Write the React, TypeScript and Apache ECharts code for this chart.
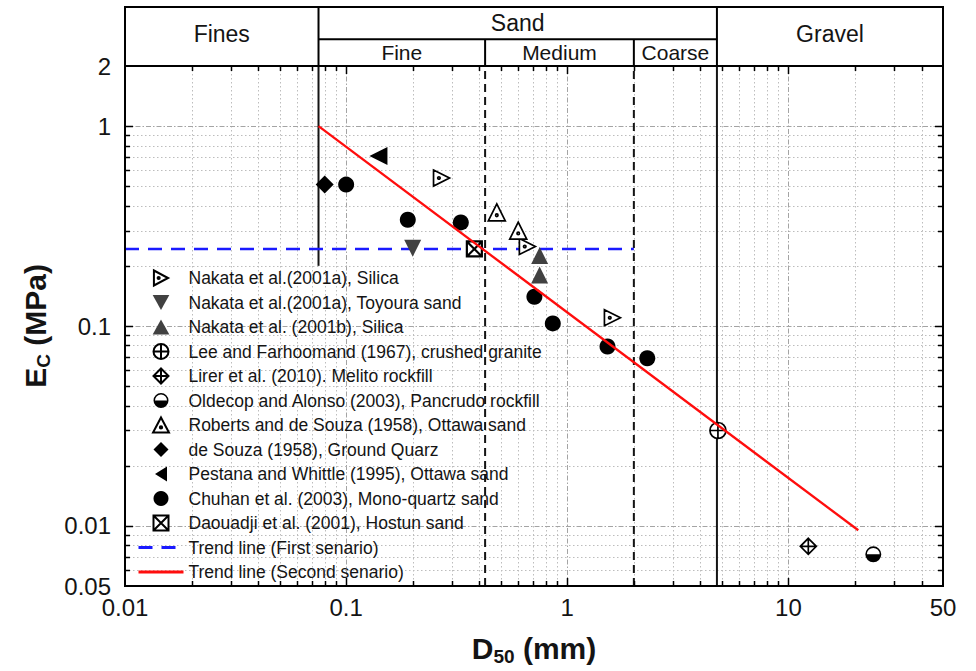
import React, { useEffect, useRef } from 'react';
import * as echarts from 'echarts';

const FONT = '"Liberation Sans", Arial, Helvetica, sans-serif';
const INK = '#000000';

// ---------- axes ----------
const xMin = 0.01;
const xMax = 50;
const yMin = 0.005;
const yMax = 2;
const xTickValues = [0.01, 0.1, 1, 10, 50];
const xTickLabels = ['0.01', '0.1', '1', '10', '50'];
const yTickValues = [0.005, 0.01, 0.1, 1, 2];
const yTickLabels = ['0.05', '0.01', '0.1', '1', '2'];
const decadeMultipliers = [1, 2, 3, 4, 5, 6, 7, 8, 9];

// ---------- header (soil classification) ----------
const soilClasses = ['Fines', 'Sand', 'Gravel'];
const soilBounds = [0.01, 0.075, 4.75, 50];
const subdividedClass = 'Sand';
const sandClasses = ['Fine', 'Medium', 'Coarse'];
const sandBounds = [0.075, 0.425, 2, 4.75];
const headerRowEdges = [0, 1, 2.2];

// ---------- class boundary lines in the plot [D50, Ec] ----------
const finesSandLine = [[0.075, 0.2], [0.075, 2]];
const fineMediumLine = [[0.425, 0.005], [0.425, 2]];
const mediumCoarseLine = [[2, 0.005], [2, 2]];
const sandGravelLine = [[4.75, 0.005], [4.75, 2]];

// ---------- data [D50 (mm), Ec (MPa)] ----------
const nakataSilica = [[0.27, 0.55], [0.66, 0.25], [1.6, 0.11]];
const nakataToyoura = [[0.2, 0.245]];
const nakata2001b = [[0.75, 0.225], [0.75, 0.18]];
const leeFarhoomand = [[4.8, 0.03]];
const lirer = [[12.3, 0.0079]];
const oldecop = [[24.2, 0.0072]];
const robertsDeSouza = [[0.48, 0.37], [0.6, 0.3]];
const deSouza = [[0.08, 0.51]];
const pestana = [[0.14, 0.71]];
const chuhan = [[0.1, 0.51], [0.19, 0.34], [0.33, 0.33], [0.71, 0.14], [0.86, 0.103], [1.52, 0.079], [2.3, 0.069]];
const daouadji = [[0.38, 0.243]];
const trendFirst = [[0.01, 0.243], [2, 0.243]];
const trendSecond = [[0.075, 1], [20.7, 0.0095]];

// ---------- symbols ----------
const SYM_TRI_RIGHT_DOT = 'path://M2,1 L19,10 L2,19 Z M6.4,10 A1.3,1.3 0 1 1 9,10 A1.3,1.3 0 1 1 6.4,10 Z';
const SYM_TRI_UP_DOT = 'path://M10,1 L19,18 L1,18 Z M8.7,12.3 A1.3,1.3 0 1 1 11.3,12.3 A1.3,1.3 0 1 1 8.7,12.3 Z';
const SYM_TRI_DOWN = 'path://M0,0 L20,0 L10,18 Z';
const SYM_TRI_UP = 'path://M10,0 L20,18 L0,18 Z';
const SYM_TRI_LEFT = 'path://M16,0 L16,20 L0,10 Z';
const SYM_DIAMOND = 'path://M10,0 L20,10 L10,20 L0,10 Z';
const SYM_CIRCLE_PLUS = 'path://M10,0 A10,10 0 1 1 10,20 A10,10 0 1 1 10,0 Z M10,0 L10,20 M0,10 L20,10';
const SYM_DIAMOND_PLUS = 'path://M10,0 L20,10 L10,20 L0,10 Z M10,0 L10,20 M0,10 L20,10';
const SYM_HALF_CIRCLE =
  'path://M10,0 A10,10 0 1 1 10,20 A10,10 0 1 1 10,0 Z M10,2 A8,8 0 1 0 10,18 A8,8 0 1 0 10,2 Z M2,10 A8,8 0 0 0 18,10 Z';
const SYM_SQUARE_X = 'path://M0,0 L20,0 L20,20 L0,20 Z M0,0 L20,20 M20,0 L0,20';

const openStyle = { color: '#ffffff', borderColor: INK, borderWidth: 1.7, opacity: 1 };
const solidStyle = { color: INK, borderWidth: 0, opacity: 1 };
const grayStyle = { color: '#414141', borderWidth: 0, opacity: 1 };

const scatterDefs = [
  { name: 'Nakata et al.(2001a), Silica', data: nakataSilica, symbol: SYM_TRI_RIGHT_DOT, size: 16, style: openStyle },
  { name: 'Nakata et al.(2001a), Toyoura sand', data: nakataToyoura, symbol: SYM_TRI_DOWN, size: 17, style: grayStyle },
  { name: 'Nakata et al. (2001b), Silica', data: nakata2001b, symbol: SYM_TRI_UP, size: 17, style: grayStyle },
  { name: 'Lee and Farhoomand (1967), crushed granite', data: leeFarhoomand, symbol: SYM_CIRCLE_PLUS, size: 16, style: openStyle },
  { name: 'Lirer et al. (2010). Melito rockfill', data: lirer, symbol: SYM_DIAMOND_PLUS, size: 16, style: openStyle },
  { name: 'Oldecop and Alonso (2003), Pancrudo rockfill', data: oldecop, symbol: SYM_HALF_CIRCLE, size: 16, style: solidStyle },
  { name: 'Roberts and de Souza (1958), Ottawa sand', data: robertsDeSouza, symbol: SYM_TRI_UP_DOT, size: 17, style: openStyle },
  { name: 'de Souza (1958), Ground Quarz', data: deSouza, symbol: SYM_DIAMOND, size: 18, style: solidStyle },
  { name: 'Pestana and Whittle (1995), Ottawa sand', data: pestana, symbol: SYM_TRI_LEFT, size: 18, style: solidStyle },
  { name: 'Chuhan et al. (2003), Mono-quartz sand', data: chuhan, symbol: 'circle', size: 16, style: solidStyle },
  {
    name: 'Daouadji et al. (2001), Hostun sand',
    data: daouadji,
    symbol: SYM_SQUARE_X,
    size: 15,
    style: { color: '#ffffff', borderColor: INK, borderWidth: 2.2, opacity: 1 },
  },
];
const trendFirstName = 'Trend line (First senario)';
const trendSecondName = 'Trend line (Second senario)';

// ---------- helpers ----------
function buildTicks(min: number, max: number) {
  const out: { v: number; major: boolean }[] = [];
  const e0 = Math.floor(Math.log10(min));
  const e1 = Math.ceil(Math.log10(max));
  for (let e = e0; e <= e1; e++) {
    for (const m of decadeMultipliers) {
      const v = m * Math.pow(10, e);
      if (v > min * 1.0001 && v < max * 0.9999) out.push({ v, major: m === 1 });
    }
  }
  return out;
}
const xTicks = buildTicks(xMin, xMax);
const yTicks = buildTicks(yMin, yMax);

function labelFor(values: number[], labels: string[]) {
  return (v: number) => {
    let best = -1;
    let bd = Infinity;
    values.forEach((t, i) => {
      const d = Math.abs(Math.log10(v) - Math.log10(t));
      if (d < bd) {
        bd = d;
        best = i;
      }
    });
    return bd < 0.02 ? labels[best] : '';
  };
}

const minorGrid = { stroke: '#bdbdbd', lineWidth: 1, lineDash: [1.5, 2.5] };
const majorGrid = { stroke: '#a4a4a4', lineWidth: 1, lineDash: [5, 2, 1.5, 2] };
const tickStyle = { stroke: INK, lineWidth: 1.5 };

const renderGridLines = (params: any, api: any) => {
  const cs = params.coordSys;
  const L = cs.x, T = cs.y, R = cs.x + cs.width, B = cs.y + cs.height;
  const children: any[] = [];
  xTicks.forEach((t) => {
    const px = Math.round(api.coord([t.v, yMin])[0]) + 0.5;
    children.push({ type: 'line', shape: { x1: px, y1: T, x2: px, y2: B }, style: t.major ? majorGrid : minorGrid });
  });
  yTicks.forEach((t) => {
    const py = Math.round(api.coord([xMin, t.v])[1]) + 0.5;
    children.push({ type: 'line', shape: { x1: L, y1: py, x2: R, y2: py }, style: t.major ? majorGrid : minorGrid });
  });
  return { type: 'group', children };
};

const renderFrame = (params: any, api: any) => {
  const cs = params.coordSys;
  const L = cs.x, T = cs.y, R = cs.x + cs.width, B = cs.y + cs.height;
  const children: any[] = [];
  xTicks.forEach((t) => {
    const px = Math.round(api.coord([t.v, yMin])[0]) + 0.5;
    const len = t.major ? 8 : 5;
    children.push({ type: 'line', shape: { x1: px, y1: B, x2: px, y2: B - len }, style: tickStyle });
    children.push({ type: 'line', shape: { x1: px, y1: T, x2: px, y2: T + len }, style: tickStyle });
  });
  yTicks.forEach((t) => {
    const py = Math.round(api.coord([xMin, t.v])[1]) + 0.5;
    const len = t.major ? 8 : 5;
    children.push({ type: 'line', shape: { x1: L, y1: py, x2: L + len, y2: py }, style: tickStyle });
    children.push({ type: 'line', shape: { x1: R, y1: py, x2: R - len, y2: py }, style: tickStyle });
  });
  children.push({ type: 'rect', shape: { x: L, y: T, width: R - L, height: B - T }, style: { fill: 'none', stroke: INK, lineWidth: 2 } });
  return { type: 'group', children };
};

const headerText = (text: string, x: number, y: number, size: number) => ({
  type: 'text',
  style: { text, x, y, align: 'center', verticalAlign: 'middle', fontSize: size, fontFamily: FONT, fill: '#141414' },
});

const renderHeader = (params: any, api: any) => {
  const cs = params.coordSys;
  const L = cs.x, T = cs.y, R = cs.x + cs.width, B = cs.y + cs.height;
  const px = (d: number) => api.coord([d, 0])[0];
  const rowY = (r: number) => api.coord([1, r])[1];
  const midY = rowY(headerRowEdges[1]);
  const ls = { stroke: INK, lineWidth: 2 };
  const children: any[] = [];
  children.push({ type: 'rect', shape: { x: L, y: T, width: R - L, height: B - T }, style: { fill: 'none', stroke: INK, lineWidth: 2 } });
  soilBounds.slice(1, -1).forEach((d) => {
    children.push({ type: 'line', shape: { x1: px(d), y1: T, x2: px(d), y2: B }, style: ls });
  });
  children.push({
    type: 'line',
    shape: { x1: px(sandBounds[0]), y1: midY, x2: px(sandBounds[sandBounds.length - 1]), y2: midY },
    style: ls,
  });
  sandBounds.slice(1, -1).forEach((d) => {
    children.push({ type: 'line', shape: { x1: px(d), y1: midY, x2: px(d), y2: B }, style: ls });
  });
  soilClasses.forEach((name, i) => {
    const cx = (px(soilBounds[i]) + px(soilBounds[i + 1])) / 2;
    const cy =
      name === subdividedClass
        ? (rowY(headerRowEdges[1]) + rowY(headerRowEdges[2])) / 2
        : (rowY(headerRowEdges[0]) + rowY(headerRowEdges[2])) / 2 - 3;
    children.push(headerText(name, cx, cy, 23));
  });
  sandClasses.forEach((name, i) => {
    const cx = (px(sandBounds[i]) + px(sandBounds[i + 1])) / 2;
    const cy = (rowY(headerRowEdges[0]) + rowY(headerRowEdges[1])) / 2;
    children.push(headerText(name, cx, cy, 21));
  });
  return { type: 'group', children };
};

const boundaryLine = (data: number[][], dashed: boolean) => ({
  type: 'line',
  data,
  xAxisIndex: 0,
  yAxisIndex: 0,
  symbol: 'none',
  silent: true,
  z: 3,
  lineStyle: { color: '#141414', width: 2, type: dashed ? [8, 5] : 'solid' },
  emphasis: { disabled: true },
});

const axisNameRich = {
  b: { fontSize: 30, fontWeight: 'bold', fontFamily: FONT, color: '#141414', lineHeight: 36 },
  s: { fontSize: 19, fontWeight: 'bold', fontFamily: FONT, color: '#141414', lineHeight: 18, verticalAlign: 'bottom' },
};

const hiddenSymbol = { opacity: 0 };

const option: any = {
  animation: false,
  backgroundColor: '#ffffff',
  grid: [
    { left: 125, top: 66, width: 818, height: 521 },
    { left: 125, top: 7, width: 818, height: 59 },
  ],
  xAxis: [
    {
      type: 'log',
      logBase: 10,
      gridIndex: 0,
      min: xMin,
      max: xMax,
      axisLine: { show: false },
      axisTick: { show: false },
      splitLine: { show: false },
      axisLabel: {
        fontSize: 24,
        fontFamily: FONT,
        color: '#141414',
        margin: 9,
        showMinLabel: true,
        showMaxLabel: true,
        formatter: labelFor(xTickValues, xTickLabels),
      },
      name: '{b|D}{s|50}{b| (mm)}',
      nameLocation: 'middle',
      nameGap: 44,
      nameTextStyle: { rich: axisNameRich },
    },
    { type: 'log', logBase: 10, gridIndex: 1, min: xMin, max: xMax, show: false },
  ],
  yAxis: [
    {
      type: 'log',
      logBase: 10,
      gridIndex: 0,
      min: yMin,
      max: yMax,
      axisLine: { show: false },
      axisTick: { show: false },
      splitLine: { show: false },
      axisLabel: {
        fontSize: 24,
        fontFamily: FONT,
        color: '#141414',
        margin: 14,
        showMinLabel: true,
        showMaxLabel: true,
        formatter: labelFor(yTickValues, yTickLabels),
      },
      name: '{b|E}{s|C}{b| (MPa)}',
      nameLocation: 'middle',
      nameGap: 71,
      nameTextStyle: { rich: axisNameRich },
    },
    { type: 'value', gridIndex: 1, min: headerRowEdges[0], max: headerRowEdges[2], show: false },
  ],
  legend: {
    orient: 'vertical',
    left: 137,
    top: 269,
    padding: 0,
    itemWidth: 45,
    itemHeight: 15,
    itemGap: 6.5,
    selectedMode: false,
    data: [
      ...scatterDefs.map((d) => d.name),
      { name: trendFirstName, itemStyle: hiddenSymbol, lineStyle: { width: 3 } },
      { name: trendSecondName, itemStyle: hiddenSymbol, lineStyle: { width: 3 } },
    ],
    textStyle: { fontSize: 17.5, fontFamily: FONT, color: '#141414' },
  },
  series: [
    {
      type: 'custom',
      name: 'grid-lines',
      xAxisIndex: 0,
      yAxisIndex: 0,
      data: [[1, 1]],
      renderItem: renderGridLines,
      silent: true,
      z: 1,
    },
    {
      type: 'custom',
      name: 'header',
      xAxisIndex: 1,
      yAxisIndex: 1,
      data: [[1, 1]],
      renderItem: renderHeader,
      silent: true,
      z: 10,
    },
    boundaryLine(finesSandLine, false),
    boundaryLine(fineMediumLine, true),
    boundaryLine(mediumCoarseLine, true),
    boundaryLine(sandGravelLine, false),
    {
      type: 'line',
      name: trendFirstName,
      data: trendFirst,
      symbol: 'none',
      showSymbol: false,
      z: 4,
      lineStyle: { color: '#1a1aff', width: 2.6, type: [14, 9] },
      itemStyle: { color: 'rgba(0,0,0,0)' },
      emphasis: { disabled: true },
    },
    {
      type: 'line',
      name: trendSecondName,
      data: trendSecond,
      symbol: 'none',
      showSymbol: false,
      z: 6,
      lineStyle: { color: '#ff0d0d', width: 2.3 },
      itemStyle: { color: 'rgba(0,0,0,0)' },
      emphasis: { disabled: true },
    },
    ...scatterDefs.map((d) => ({
      type: 'scatter',
      name: d.name,
      data: d.data,
      symbol: d.symbol,
      symbolSize: d.size,
      itemStyle: d.style,
      z: 5,
      emphasis: { disabled: true },
    })),
    {
      type: 'custom',
      name: 'frame',
      xAxisIndex: 0,
      yAxisIndex: 0,
      data: [[1, 1]],
      renderItem: renderFrame,
      silent: true,
      z: 10,
    },
  ],
};

export default function App() {
  const ref = useRef<HTMLDivElement>(null);
  useEffect(() => {
    const chart = echarts.init(ref.current as HTMLDivElement, null, { renderer: 'svg' });
    chart.setOption(option);
    return () => chart.dispose();
  }, []);
  return (
    <div
      ref={ref}
      style={{ position: 'absolute', left: 0, top: 0, width: 976, height: 671, background: '#ffffff' }}
    />
  );
}
